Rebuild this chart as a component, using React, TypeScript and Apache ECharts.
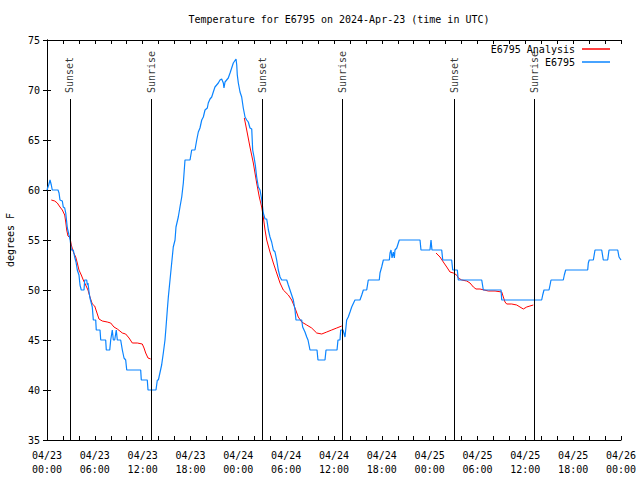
import React, { useEffect, useRef } from "react";
import * as echarts from "echarts";

// Hours since 2024-04-23 00:00 UTC
const obsHours = [
  0.0, 0.21, 0.38, 0.54, 0.66, 1.38, 1.51, 1.63, 1.92, 2.04, 2.22, 2.35, 2.47, 2.55, 2.76, 2.89,
  3.05, 3.3, 3.47, 3.64, 3.8, 4.01, 4.14, 4.3, 4.64, 4.73, 4.98, 5.06, 5.14, 5.27, 5.39, 5.68,
  5.81, 6.11, 6.18, 6.65, 6.74, 7.36, 7.44, 7.87, 7.99, 8.19, 8.32, 8.49, 8.69, 8.82, 9.24, 9.45,
  9.66, 9.87, 10.0, 11.75, 11.83, 12.58, 12.67, 13.67, 13.84, 13.97, 14.38, 14.59, 14.8, 14.93,
  15.09, 15.22, 15.43, 15.64, 15.84, 16.06, 16.18, 16.47, 16.68, 16.9, 17.1, 17.31, 17.94, 18.15,
  18.56, 18.78, 18.98, 19.19, 19.41, 19.61, 19.82, 20.11, 20.23, 20.45, 20.66, 20.86, 21.07, 21.49,
  21.7, 21.91, 22.12, 22.2, 22.33, 22.74, 22.96, 23.37, 23.71, 23.8, 23.87, 24.0, 24.21, 24.42,
  24.62, 24.84, 25.05, 25.25, 25.46, 25.68, 25.8, 25.97, 26.13, 26.3, 26.51, 26.72, 26.94, 27.13,
  27.35, 27.56, 27.77, 27.97, 28.18, 28.39, 28.6, 28.81, 29.01, 29.23, 29.44, 30.07, 30.27, 30.48,
  30.69, 30.9, 31.11, 31.23, 31.95, 32.07, 32.36, 32.58, 32.74, 32.99, 33.87, 33.99, 34.87, 35.0,
  36.38, 36.5, 36.75, 36.84, 37.13, 37.38, 37.59, 37.79, 38.01, 38.22, 38.63, 39.26, 39.48, 39.68,
  40.1, 40.3, 41.68, 41.77, 41.98, 42.19, 42.94, 43.03, 43.15, 43.28, 43.44, 43.57, 43.65, 43.87,
  44.07, 44.19, 46.79, 46.91, 48.04, 48.17, 48.29, 49.51, 49.64, 50.76, 50.89, 51.47, 51.59, 54.53,
  54.73, 56.95, 57.04, 62.05, 62.18, 62.34, 62.97, 63.1, 63.22, 64.76, 64.89, 65.06, 67.82, 67.9,
  68.02, 68.53, 68.74, 69.58, 69.78, 70.33, 70.5, 71.59, 71.75, 72.0,
];
const obsTemps = [
  60, 60.5, 61, 60.5, 60, 60, 59.7, 59, 58.9, 58.3, 58.2, 57.7, 56.8, 56.2, 55.5, 55.1,
  54, 54, 53.3, 52.8, 52, 51.5, 50.5, 50, 50, 51, 51, 50.5, 50.7, 49.8, 49.2, 48.3,
  47, 47, 46, 46, 45, 45, 44, 44, 45, 46, 45, 45, 46, 45, 45, 44,
  43.2, 43, 42, 42, 41, 41, 40, 40, 41, 41, 42.5, 43.7, 45, 46.3,
  48, 49.3, 51, 52.7, 54.3, 55, 56.3, 57.3, 58.3, 59.3, 60.7, 63, 63, 64,
  64, 65, 65.8, 66.2, 67, 67.3, 68, 68.2, 68.7, 69.1, 69.3, 69.8, 70.3, 70.7,
  71, 71.1, 70.7, 70.2, 70.8, 71.2, 71.7, 72.7, 73.1, 72.5, 71.5, 70.7, 69.8, 69.3,
  68.2, 67.3, 67, 66.8, 66.2, 66.1, 64, 63.3, 62.5, 61.3, 60.3, 60, 59, 57.7,
  57.1, 57.1, 56, 55.3, 54.8, 54, 53.8, 53, 52, 51.3, 51, 51, 50.5, 50,
  49.5, 49, 48, 47, 47, 46.3, 45.8, 45.3, 45, 44, 44, 43, 43, 44,
  44, 45, 45, 46, 46, 45.3, 47, 47.3, 47.8, 48.3, 49, 49, 49.5, 50,
  50, 51, 51, 51.7, 52.3, 53, 53, 53.7, 54, 53.2, 53.8, 53.2, 54, 54.2,
  54.7, 55, 55, 54, 54, 55, 54, 54, 53, 53, 52, 52, 51, 51,
  50, 50, 49, 49, 49.5, 50, 50, 50.5, 51, 51, 51.5, 52, 52, 52.7,
  53, 53, 54, 54, 53, 53, 54, 54, 53.3, 53,
];

const ana1Hours = [
  0.54, 0.97, 1.29, 1.63, 1.92, 2.22, 2.35, 2.47, 2.63, 2.89, 3.05, 3.3, 3.6, 3.8, 4.01, 4.3,
  4.55, 4.85, 5.14, 5.39, 5.68, 5.98, 6.23, 6.52, 6.94, 7.56, 7.99, 8.4, 8.82, 9.45, 9.87, 10.29,
  10.7, 11.33, 11.95, 12.17, 12.38, 12.67, 13.01,
];
const ana1Temps = [
  59, 58.9, 58.7, 58.3, 58, 57.5, 56.8, 56, 55.4, 55.2, 54.5, 53.8, 53.3, 52.7, 52, 51.5,
  51, 50.5, 50, 49.3, 48.6, 48.4, 47.8, 47.1, 46.9, 46.8, 46.7, 46.3, 46.1, 45.7, 45.6, 45.2,
  44.7, 44.7, 44.6, 44.2, 43.7, 43.2, 43.1,
];
const ana2Hours = [
  24.75, 25.05, 25.46, 25.88, 26.3, 26.63, 26.93, 27.13, 27.35, 27.56, 27.97, 28.39, 28.81, 29.23,
  29.64, 30.27, 30.69, 31.11, 31.52, 31.95, 32.58, 33.2, 33.83, 34.46, 35.09, 35.71, 36.34, 36.97,
];
const ana2Temps = [
  67.2, 66, 64.3, 62.7, 60.7, 59.3, 58.3, 57.3, 56, 55, 53.8, 52.7, 51.7, 50.7,
  50, 49.5, 49, 48.2, 47.3, 46.8, 46.5, 46.2, 45.7, 45.6, 45.8, 46, 46.2, 46.4,
];
const ana3Hours = [
  48.8, 49.3, 49.71, 50.14, 50.55, 50.97, 51.39, 51.59, 52.02, 52.65, 53.06, 53.48, 53.81, 54.31,
  55.36, 56.2, 57.04, 57.24, 57.45, 57.66, 58.29, 58.92, 59.33, 59.75, 60.17, 60.58, 61.0,
];
const ana3Temps = [
  53.7, 53.3, 52.8, 52.3, 51.8, 51.7, 51.5, 51.2, 51, 50.9, 50.7, 50.3, 50.1, 50.1,
  49.9, 49.9, 49.8, 49.3, 48.8, 48.6, 48.6, 48.5, 48.3, 48.1, 48.3, 48.4, 48.5,
];

const eventHours = [2.88, 13.08, 27.0, 37.04, 51.08, 61.12];
const eventNames = ["Sunset", "Sunrise", "Sunset", "Sunrise", "Sunset", "Sunrise"];
const eventLineTop = 69.1;
const eventLabelBase = 69.7;

const yTicks = { min: 35, max: 75, step: 5 };
const xTicks = { min: 0, max: 72, step: 6 };
const startDay = 23;

const FONT = "DejaVu Sans Mono";
const RED = "#ff0000";
const BLUE = "#0a84ff";

const zip = (a: number[], b: number[]) => a.map((v, i) => [v, b[i]]);

function fmtX(v: number) {
  const day = startDay + Math.floor(v / 24);
  const hh = Math.round(v % 24);
  const pad = (n: number) => (n < 10 ? "0" + n : "" + n);
  return "04/" + pad(day) + "\n" + pad(hh) + ":00";
}

export default function App() {
  const ref = useRef<HTMLDivElement>(null);
  useEffect(() => {
    document.body.style.margin = "0";
    if (!ref.current) return;
    const chart = echarts.init(ref.current, null, { renderer: "svg" });
    const tickCommon = { show: true, inside: true, length: 4, lineStyle: { color: "#000", width: 1 } };
    const lineCommon = { show: true, lineStyle: { color: "#000", width: 1 } };
    const xBase = {
      type: "value",
      min: xTicks.min,
      max: xTicks.max,
      interval: xTicks.step,
      splitLine: { show: false },
      axisLine: lineCommon,
      axisTick: tickCommon,
      minorTick: { show: true, splitNumber: 3, length: 4, lineStyle: { color: "#000", width: 1 } },
    };
    const yBase = {
      type: "value",
      min: yTicks.min,
      max: yTicks.max,
      interval: yTicks.step,
      splitLine: { show: false },
      axisLine: lineCommon,
      axisTick: tickCommon,
    };
    const anaStyle = {
      type: "line",
      name: "E6795 Analysis",
      showSymbol: false,
      symbol: "none",
      lineStyle: { color: RED, width: 1 },
      itemStyle: { color: RED },
      z: 2,
      silent: true,
    };
    chart.setOption({
      animation: false,
      textStyle: { fontFamily: FONT, fontSize: 10, color: "#000" },
      title: {
        text: "Temperature for E6795 on 2024-Apr-23 (time in UTC)",
        left: 334,
        top: 9,
        textAlign: "center",
        textStyle: { fontFamily: FONT, fontSize: 10, fontWeight: "normal", color: "#000" },
      },
      legend: {
        data: ["E6795 Analysis", "E6795"],
        orient: "vertical",
        right: 30,
        top: 44,
        padding: 0,
        align: "right",
        itemWidth: 28,
        itemHeight: 1.5,
        itemGap: 3,
        icon: "rect",
        textStyle: { fontFamily: FONT, fontSize: 10, color: "#000", padding: [0, 2, 0, 0] },
        selectedMode: false,
      },
      grid: {
        left: 47,
        right: 19,
        top: 40,
        bottom: 40,
        containLabel: false,
        outerBoundsMode: "none",
      },
      xAxis: [
        {
          ...xBase,
          position: "bottom",
          axisLabel: {
            show: true,
            margin: 8,
            fontFamily: FONT,
            fontSize: 10,
            color: "#000",
            lineHeight: 14,
            formatter: fmtX,
          },
        },
        { ...xBase, position: "top", axisLabel: { show: false } },
      ],
      yAxis: [
        {
          ...yBase,
          position: "left",
          name: "degrees F",
          nameLocation: "middle",
          nameGap: 32,
          nameRotate: 90,
          nameTextStyle: { fontFamily: FONT, fontSize: 10, color: "#000" },
          axisLabel: { show: true, margin: 7, fontFamily: FONT, fontSize: 10, color: "#000" },
        },
        { ...yBase, position: "right", axisLabel: { show: false } },
      ],
      series: [
        { ...anaStyle, data: zip(ana1Hours, ana1Temps) },
        { ...anaStyle, data: zip(ana2Hours, ana2Temps) },
        { ...anaStyle, data: zip(ana3Hours, ana3Temps) },
        {
          type: "line",
          name: "E6795",
          showSymbol: false,
          symbol: "none",
          data: zip(obsHours, obsTemps),
          lineStyle: { color: BLUE, width: 1.2 },
          itemStyle: { color: BLUE },
          z: 3,
          silent: true,
        },
        {
          type: "scatter",
          name: "events",
          symbolSize: 1,
          itemStyle: { color: "rgba(0,0,0,0)" },
          silent: true,
          z: 4,
          data: eventHours.map((h) => [h, eventLabelBase]),
          label: {
            show: true,
            position: "inside",
            align: "left",
            verticalAlign: "middle",
            rotate: 90,
            fontFamily: FONT,
            fontSize: 10,
            color: "#000",
            formatter: (p: any) => eventNames[p.dataIndex],
          },
          markLine: {
            silent: true,
            symbol: ["none", "none"],
            label: { show: false },
            lineStyle: { color: "#000", width: 1, type: "solid" },
            emphasis: { disabled: true },
            data: eventHours.map((h) => [{ coord: [h, yTicks.min] }, { coord: [h, eventLineTop] }]),
          },
        },
      ],
    });
    return () => chart.dispose();
  }, []);
  return <div ref={ref} style={{ width: 640, height: 480 }} />;
}
